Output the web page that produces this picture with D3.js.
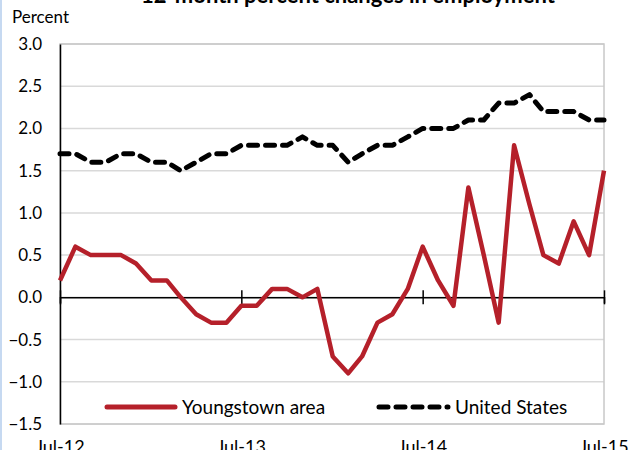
<!DOCTYPE html>
<html>
<head>
<meta charset="utf-8">
<script src="https://cdn.jsdelivr.net/npm/d3@7"></script>
<style>
  body { margin: 0; background: #fff; }
  svg { display: block; font-family: Lato, "Open Sans", sans-serif; }
</style>
</head>
<body>
<div id="chart"></div>
<script>
// 12-month percent changes in employment, Jul-12 .. Jul-15 (monthly)
const months = d3.range(37).map(i => new Date(2012, 6 + i, 1));
const youngstown = [0.2, 0.6, 0.5, 0.5, 0.5, 0.4, 0.2, 0.2, 0.0, -0.2, -0.3, -0.3,
    -0.1, -0.1, 0.1, 0.1, 0.0, 0.1, -0.7, -0.9, -0.7, -0.3, -0.2, 0.1,
    0.6, 0.2, -0.1, 1.3, 0.5, -0.3, 1.8, 1.1, 0.5, 0.4, 0.9, 0.5, 1.5];
const unitedStates = [1.7, 1.7, 1.6, 1.6, 1.7, 1.7, 1.6, 1.6, 1.5, 1.6, 1.7, 1.7,
    1.8, 1.8, 1.8, 1.8, 1.9, 1.8, 1.8, 1.6, 1.7, 1.8, 1.8, 1.9,
    2.0, 2.0, 2.0, 2.1, 2.1, 2.3, 2.3, 2.4, 2.2, 2.2, 2.2, 2.1, 2.1];
const yTicks = [-1.5, -1.0, -0.5, 0.0, 0.5, 1.0, 1.5, 2.0, 2.5, 3.0];
const xTickDates = [new Date(2012, 6, 1), new Date(2013, 6, 1), new Date(2014, 6, 1), new Date(2015, 6, 1)];
const seriesNames = ['Youngstown area', 'United States'];

const totalWidth = 631, totalHeight = 450;
const margin = { top: 44, right: 27, bottom: 26, left: 60 };
const width = totalWidth - margin.left - margin.right;
const height = totalHeight - margin.top - margin.bottom;

const root = d3.select('#chart').append('svg')
    .attr('width', totalWidth)
    .attr('height', totalHeight);

// light blue frame edge on the left
root.append('rect')
    .attr('x', 0).attr('y', 0)
    .attr('width', 2).attr('height', totalHeight)
    .attr('fill', '#c6d9f1');

// title (clipped at top in the original)
root.append('text')
    .attr('x', 348)
    .attr('y', 3)
    .attr('text-anchor', 'middle')
    .style('font-size', '22px')
    .style('font-weight', 'bold')
    .style('fill', '#000')
    .text('12-month percent changes in employment');

root.append('text')
    .attr('x', 12)
    .attr('y', 23)
    .style('font-size', '17px')
    .text('Percent');

const svg = root.append('g')
    .attr('transform', `translate(${margin.left},${margin.top})`);

const x = d3.scaleTime()
    .domain([months[0], months[months.length - 1]])
    .range([0, width]);

const y = d3.scaleLinear()
    .domain([-1.5, 3.0])
    .range([height, 0]);

// gridlines
svg.append('g')
    .selectAll('line')
    .data(yTicks)
    .enter()
    .append('line')
    .attr('x1', 0).attr('x2', width)
    .attr('y1', d => y(d)).attr('y2', d => y(d))
    .attr('stroke', '#d9d9d9')
    .attr('stroke-width', 1.5);

// plot border
svg.append('rect')
    .attr('width', width).attr('height', height)
    .attr('fill', 'none')
    .attr('stroke', '#c8c8c8')
    .attr('stroke-width', 1.5);

// y axis
const yAxis = svg.append('g')
    .call(d3.axisLeft(y).tickValues(yTicks).tickSize(0).tickPadding(18).tickFormat(d3.format('.1f')));
yAxis.select('.domain').attr('stroke', '#000').attr('stroke-width', 1.5);
yAxis.selectAll('text')
    .style('font-size', '17px')
    .style('font-family', 'Lato, sans-serif')
    .attr('fill', '#000');

// zero line with date ticks
const zeroAxis = svg.append('g')
    .attr('transform', `translate(0,${y(0)})`)
    .call(d3.axisBottom(x).tickValues(xTickDates).tickSize(6).tickFormat(''));
zeroAxis.select('.domain').attr('stroke', '#000').attr('stroke-width', 1.5);
zeroAxis.selectAll('.tick line').attr('stroke', '#000').attr('stroke-width', 1.5).attr('y1', -7).attr('y2', 7);

// x tick labels at bottom
svg.append('g')
    .selectAll('text')
    .data(xTickDates)
    .enter()
    .append('text')
    .attr('x', d => x(d))
    .attr('y', height + 29)
    .attr('text-anchor', 'middle')
    .style('font-size', '18px')
    .text(d3.timeFormat('%b-%y'));

const line = d3.line()
    .x((d, i) => x(months[i]))
    .y(d => y(d));

svg.append('path')
    .datum(unitedStates)
    .attr('d', line)
    .attr('fill', 'none')
    .attr('stroke', '#000')
    .attr('stroke-width', 5)
    .attr('stroke-dasharray', '9,8')
    .attr('stroke-linecap', 'round')
    .attr('stroke-linejoin', 'round');

svg.append('path')
    .datum(youngstown)
    .attr('d', line)
    .attr('fill', 'none')
    .attr('stroke', '#b5202a')
    .attr('stroke-width', 4.5)
    .attr('stroke-linejoin', 'round');

// legend
const legend = svg.append('g')
    .attr('transform', `translate(0,${y(-1.3)})`);

legend.append('line')
    .attr('x1', 47).attr('x2', 115)
    .attr('stroke', '#b5202a')
    .attr('stroke-width', 5)
    .attr('stroke-linecap', 'round');
legend.append('text')
    .attr('x', 122).attr('y', 0).attr('dy', '0.35em')
    .style('font-size', '19px')
    .text(seriesNames[0]);

legend.append('line')
    .attr('x1', 319).attr('x2', 388)
    .attr('stroke', '#000')
    .attr('stroke-width', 5)
    .attr('stroke-dasharray', '9,8')
    .attr('stroke-linecap', 'round');
legend.append('text')
    .attr('x', 395).attr('y', 0).attr('dy', '0.35em')
    .style('font-size', '19px')
    .text(seriesNames[1]);
</script>
</body>
</html>
